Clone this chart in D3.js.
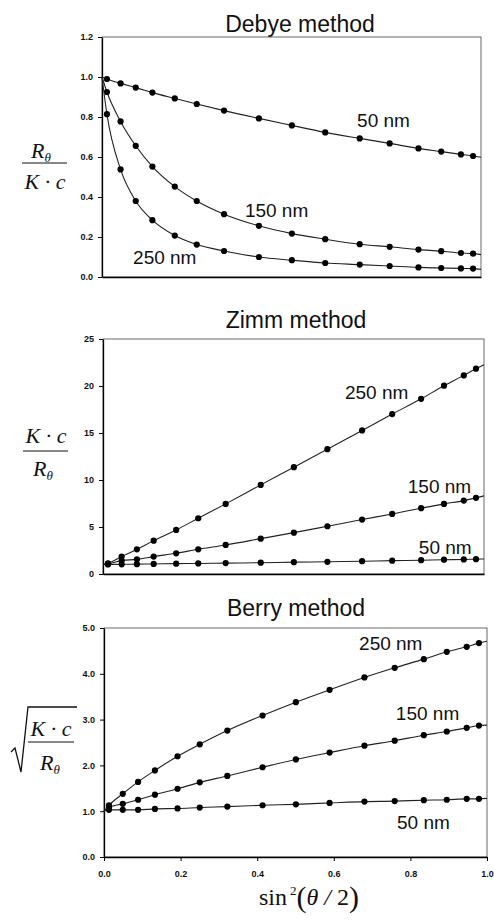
<!DOCTYPE html>
<html>
<head>
<meta charset="utf-8">
<script src="https://cdn.jsdelivr.net/npm/d3@7"></script>
<style>
  body { margin: 0; background: #fff; }
  text { font-family: "Liberation Sans", Arial, sans-serif; fill: #111; }
  .serif { font-family: "Liberation Serif", "Times New Roman", serif; }
</style>
</head>
<body>
<div id="chart"></div>
<script>
// x values for every panel: sin^2(theta/2) at the detector angles
var sinSq = [0.013, 0.049, 0.089, 0.133, 0.192, 0.250, 0.322, 0.414, 0.501, 0.589, 0.680, 0.759, 0.835, 0.895, 0.947, 0.979];
var sizeNames = ["50 nm", "150 nm", "250 nm"];

// Debye: R / Kc
var debye50  = [0.990, 0.968, 0.947, 0.922, 0.893, 0.865, 0.832, 0.793, 0.758, 0.723, 0.693, 0.668, 0.643, 0.627, 0.613, 0.605];
var debye150 = [0.925, 0.778, 0.656, 0.552, 0.452, 0.380, 0.314, 0.256, 0.217, 0.189, 0.164, 0.151, 0.137, 0.129, 0.120, 0.117];
var debye250 = [0.814, 0.538, 0.380, 0.284, 0.207, 0.162, 0.130, 0.100, 0.084, 0.070, 0.062, 0.055, 0.048, 0.045, 0.043, 0.042];
var debyeStart = [1.0, 1.0, 1.0];
var debyeEnd   = [0.599, 0.112, 0.038];
var debyeTicks = [0, 0.2, 0.4, 0.6, 0.8, 1.0, 1.2];

// Zimm: Kc / R
var zimm50  = [1.02, 1.03, 1.05, 1.07, 1.10, 1.12, 1.16, 1.20, 1.26, 1.30, 1.36, 1.42, 1.47, 1.52, 1.55, 1.58];
var zimm150 = [1.07, 1.42, 1.56, 1.85, 2.20, 2.63, 3.09, 3.76, 4.40, 5.08, 5.79, 6.39, 7.00, 7.46, 7.81, 8.10];
var zimm250 = [1.14, 1.85, 2.63, 3.55, 4.69, 5.93, 7.46, 9.48, 11.36, 13.28, 15.27, 17.01, 18.64, 20.03, 21.13, 21.84];
var zimmStart = [1.0, 1.0, 1.0];
var zimmEnd   = [1.60, 8.31, 22.27];
var zimmTicks = [0, 5, 10, 15, 20, 25];

// Berry: sqrt(Kc / R)
var berry50  = [1.03, 1.03, 1.03, 1.05, 1.06, 1.08, 1.10, 1.13, 1.15, 1.18, 1.21, 1.22, 1.24, 1.25, 1.27, 1.27];
var berry150 = [1.08, 1.16, 1.25, 1.36, 1.49, 1.63, 1.77, 1.96, 2.13, 2.28, 2.43, 2.54, 2.66, 2.74, 2.82, 2.87];
var berry250 = [1.13, 1.38, 1.64, 1.89, 2.20, 2.46, 2.76, 3.09, 3.38, 3.65, 3.92, 4.13, 4.32, 4.48, 4.59, 4.67];
var berryStart = [1.0, 1.0, 1.0];
var berryEnd   = [1.28, 2.88, 4.71];
var berryTicks = [0, 1, 2, 3, 4, 5];

var xTicks = [0, 0.2, 0.4, 0.6, 0.8, 1.0];

var width = 494,
    height = 921;

var svg = d3.select("#chart")
  .append("svg")
    .attr("width", width)
    .attr("height", height);

var panels = [
  { title: "Debye method", titleX: 300, titleY: 32,
    series: [debye50, debye150, debye250], start: debyeStart, end: debyeEnd,
    domain: [0, 1.2], ticks: debyeTicks, fmt: d3.format(".1f"),
    xRange: [102, 481], yRange: [277, 37],
    labels: [[0.673, 0.75], [0.377, 0.30], [0.082, 0.065]],
    yLabel: drawDebyeLabel },
  { title: "Zimm method", titleX: 296, titleY: 328,
    series: [zimm50, zimm150, zimm250], start: zimmStart, end: zimmEnd,
    domain: [0, 25], ticks: zimmTicks, fmt: d3.format("d"),
    xRange: [103, 484], yRange: [574, 339],
    labels: [[0.829, 2.1], [0.80, 8.6], [0.635, 18.6]],
    yLabel: drawZimmLabel },
  { title: "Berry method", titleX: 296, titleY: 616,
    series: [berry50, berry150, berry250], start: berryStart, end: berryEnd,
    domain: [0, 5], ticks: berryTicks, fmt: d3.format(".1f"),
    xRange: [104, 487], yRange: [857, 628],
    labels: [[0.765, 0.61], [0.762, 2.99], [0.666, 4.52]],
    yLabel: drawBerryLabel, xAxis: true }
];

panels.forEach(drawPanel);
drawXLabel();

function drawPanel(p) {
  var x = d3.scaleLinear().domain([0, 1]).range(p.xRange);
  var y = d3.scaleLinear().domain(p.domain).range(p.yRange);
  var g = svg.append("g");

  g.append("text")
    .attr("x", p.titleX)
    .attr("y", p.titleY)
    .attr("text-anchor", "middle")
    .style("font-size", "23px")
    .text(p.title);

  // frame: thin top and right edges
  g.append("rect")
    .attr("x", x(0))
    .attr("y", y(p.domain[1]))
    .attr("width", x(1) - x(0))
    .attr("height", y(p.domain[0]) - y(p.domain[1]))
    .attr("fill", "none")
    .attr("stroke", "#444")
    .attr("stroke-width", 0.8);

  var yAxis = g.append("g")
    .attr("transform", "translate(" + x(0) + ",0)")
    .call(d3.axisLeft(y).tickValues(p.ticks).tickFormat(p.fmt).tickSize(4).tickSizeOuter(0).tickPadding(5));
  styleAxis(yAxis);

  var xAxis = g.append("g")
    .attr("transform", "translate(0," + y(p.domain[0]) + ")")
    .call(d3.axisBottom(x).tickValues(p.xAxis ? xTicks : []).tickFormat(d3.format(".1f"))
      .tickSize(4).tickSizeOuter(0).tickPadding(10));
  styleAxis(xAxis);

  var line = d3.line()
    .x(function(d) { return x(d[0]); })
    .y(function(d) { return y(d[1]); })
    .curve(d3.curveMonotoneX);

  p.series.forEach(function(values, i) {
    var pts = values.map(function(v, j) { return [sinSq[j], v]; });
    var full = [[0, p.start[i]]].concat(pts, [[1, p.end[i]]]);

    g.append("path")
      .attr("d", line(full))
      .attr("fill", "none")
      .attr("stroke", "#222")
      .attr("stroke-width", 1.1);

    g.selectAll(".dot" + i)
      .data(pts)
      .enter()
        .append("circle")
        .attr("cx", function(d) { return x(d[0]); })
        .attr("cy", function(d) { return y(d[1]); })
        .attr("r", 3.1)
        .attr("fill", "#000");

    g.append("text")
      .attr("x", x(p.labels[i][0]))
      .attr("y", y(p.labels[i][1]))
      .style("font-size", "19px")
      .text(sizeNames[i]);
  });

  p.yLabel(g);
}

function styleAxis(a) {
  a.select(".domain").attr("stroke", "#000").attr("stroke-width", 1.3);
  a.selectAll(".tick line").attr("stroke", "#000");
  a.selectAll(".tick text")
    .style("font-size", "9px")
    .style("font-weight", "bold")
    .style("font-family", "'Liberation Sans', Arial, sans-serif")
    .attr("fill", "#222");
}

// R_theta over K.c
function drawDebyeLabel(g) {
  var num = g.append("text").attr("class", "serif").attr("x", 31).attr("y", 158)
    .style("font-size", "22px").style("font-style", "italic");
  num.append("tspan").text("R");
  num.append("tspan").attr("dy", 4).style("font-size", "13px").text("θ");
  g.append("line").attr("x1", 22).attr("x2", 67).attr("y1", 163).attr("y2", 163)
    .attr("stroke", "#111").attr("stroke-width", 1);
  g.append("text").attr("class", "serif").attr("x", 45).attr("y", 189)
    .attr("text-anchor", "middle")
    .style("font-size", "22px").style("font-style", "italic")
    .text("K · c");
}

function drawZimmLabel(g) {
  g.append("text").attr("class", "serif").attr("x", 46).attr("y", 443)
    .attr("text-anchor", "middle")
    .style("font-size", "22px").style("font-style", "italic")
    .text("K · c");
  g.append("line").attr("x1", 23).attr("x2", 68).attr("y1", 451).attr("y2", 451)
    .attr("stroke", "#111").attr("stroke-width", 1);
  var den = g.append("text").attr("class", "serif").attr("x", 33).attr("y", 476)
    .style("font-size", "22px").style("font-style", "italic");
  den.append("tspan").text("R");
  den.append("tspan").attr("dy", 4).style("font-size", "13px").text("θ");
}

function drawBerryLabel(g) {
  g.append("path")
    .attr("d", "M11,752 L15,748 L21,772 L28,707 L77,707")
    .attr("fill", "none")
    .attr("stroke", "#111")
    .attr("stroke-width", 1.3);
  g.append("text").attr("class", "serif").attr("x", 51).attr("y", 736)
    .attr("text-anchor", "middle")
    .style("font-size", "22px").style("font-style", "italic")
    .text("K · c");
  g.append("line").attr("x1", 28).attr("x2", 74).attr("y1", 742).attr("y2", 742)
    .attr("stroke", "#111").attr("stroke-width", 1);
  var den = g.append("text").attr("class", "serif").attr("x", 40).attr("y", 770)
    .style("font-size", "22px").style("font-style", "italic");
  den.append("tspan").text("R");
  den.append("tspan").attr("dy", 4).style("font-size", "13px").text("θ");
}

// sin^2(theta/2)
function drawXLabel() {
  var t = svg.append("text")
    .attr("class", "serif")
    .attr("x", 309)
    .attr("y", 905)
    .attr("text-anchor", "middle")
    .style("font-size", "24px");
  t.append("tspan").text("sin");
  t.append("tspan").attr("dy", -10).attr("dx", 3).style("font-size", "13px").text("2");
  t.append("tspan").attr("dy", 12).style("font-size", "30px").text("(");
  t.append("tspan").attr("dy", -2).style("font-style", "italic").text("θ");
  t.append("tspan").style("font-style", "italic").text(" / ");
  t.append("tspan").text("2");
  t.append("tspan").attr("dy", 2).style("font-size", "30px").text(")");
}
</script>
</body>
</html>
